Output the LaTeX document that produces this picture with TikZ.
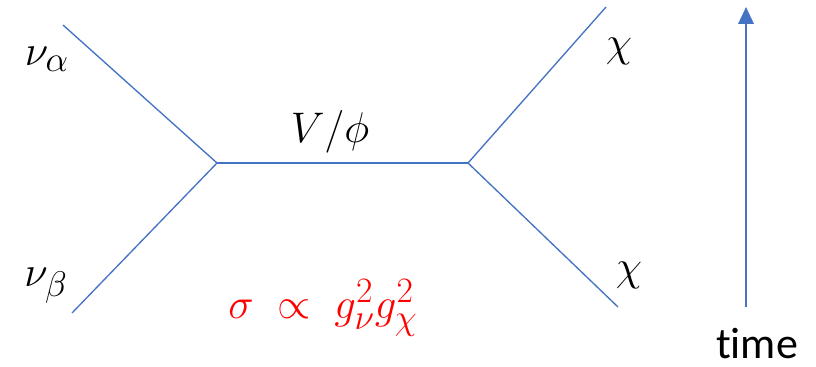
\documentclass[tikz,border=0pt]{standalone}
\usepackage{fontspec}
\newfontfamily\timefont[Ligatures=NoCommon]{Carlito}
\usetikzlibrary{arrows.meta}
\definecolor{lineblue}{HTML}{4472C4}
\tikzset{
  prop/.style={draw=lineblue, line width=1pt},
  lbl/.style={inner sep=0pt, font=\fontsize{24.88}{30}\selectfont, scale=1.29, transform shape},
  timearrow/.style={draw=lineblue, line width=2pt, -{Triangle[length=12.75pt,width=11.5pt]}}
}
\begin{document}
\begin{tikzpicture}[x=0.75pt,y=-0.75pt]
\useasboundingbox (0,0) rectangle (816,367);
\coordinate (v1) at (217,163);
\coordinate (v2) at (468,163);
\coordinate (a) at (63,25);
\coordinate (b) at (72,313);
\coordinate (c) at (606,7);
\coordinate (d) at (618,307);
\coordinate (t0) at (746,307);
\coordinate (t1) at (746,7);
\draw[prop] (a) -- (v1);
\draw[prop] (b) -- (v1);
\draw[prop] (v1) -- (v2);
\draw[prop] (v2) -- (c);
\draw[prop] (v2) -- (d);
\draw[timearrow] (t0) -- (t1);
\node[lbl] (na) at (47,59) {$\nu_\alpha$};
\node[lbl] (nb) at (46,286) {$\nu_\beta$};
\node[lbl] (med) at (330,132) {$V/\phi$};
\node[lbl] (x1) at (619,51) {$\chi$};
\node[lbl] (x2) at (629,275) {$\chi$};
\node[lbl, text=red] (sig) at (323,308) {$\sigma\;\propto\; g_\nu^2 g_\chi^2$};
\node[inner sep=0pt, anchor=base, font=\timefont\fontsize{33}{40}\selectfont] (time) at (757,358) {time};
\end{tikzpicture}
\end{document}
